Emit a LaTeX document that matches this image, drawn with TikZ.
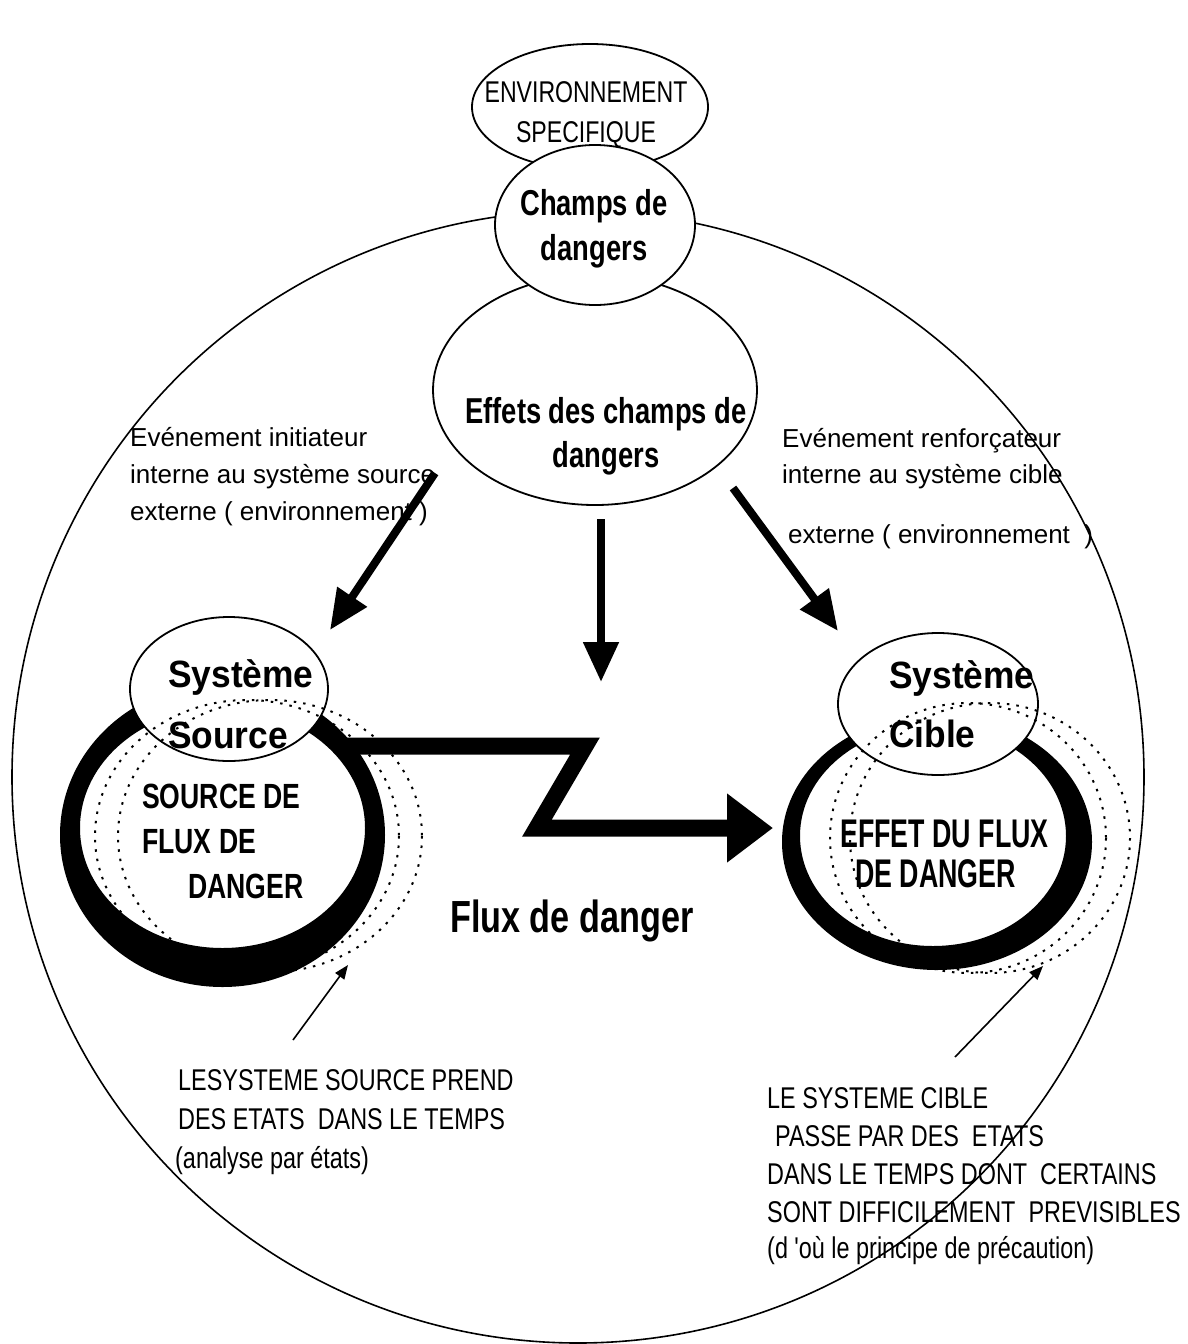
\documentclass[tikz,border=0pt]{standalone}
\usepackage{fontspec}
\setmainfont{Liberation Sans}
\newfontfamily\envfont[FakeStretch=0.77]{Liberation Sans}
\newfontfamily\headfont[FakeStretch=0.76]{Liberation Sans}
\newfontfamily\sysfont[FakeStretch=0.93]{Liberation Sans}
\newfontfamily\effetfont[FakeStretch=0.67]{Liberation Sans}
\newfontfamily\capsfont[FakeStretch=0.78]{Liberation Sans}
\usetikzlibrary{shapes.geometric,arrows.meta}

\begin{document}
\begin{tikzpicture}[x=1pt,y=-1pt,
  outline/.style={draw=black,line width=1.8pt},
  bubble/.style={ellipse,outline,fill=white,inner sep=0pt},
  statepath/.style={draw=black,line width=2pt,dash pattern=on 2.5pt off 7pt},
  bigarrow/.style={line width=8pt,-{Triangle[length=40pt,width=34pt]}},
  thinarrow/.style={line width=1.6pt,-{Triangle[length=14pt,width=11pt]}},
  % multi-line texts are placed by the baseline of their last line
  txt/.style={inner sep=0pt,anchor=base west,align=left},
  ctxt/.style={inner sep=0pt,anchor=base,align=center},
]
% page
\fill[white] (0,0) rectangle (1188,1344);
\useasboundingbox (0,0) rectangle (1188,1344);

% whole system boundary
\node[circle,draw=black,line width=1.6pt,minimum size=1132pt,inner sep=0pt] (world) at (578,777) {};

% hazard field bubbles
\node[bubble,minimum width=324pt,minimum height=230pt] (effets) at (595,390) {};
\node[bubble,minimum width=236pt,minimum height=126pt] (envir) at (590,107) {};
\node[bubble,minimum width=200pt,minimum height=160pt] (champs) at (595,225) {};

% thick rings of the two systems
\coordinate (srcOut) at (222.5,835);
\coordinate (srcIn) at (222.5,828);
\coordinate (tgtOut) at (937,842);
\coordinate (tgtIn) at (933,836);
\fill[black,even odd rule] (srcOut) ellipse [x radius=162.5, y radius=152]
                           (srcIn) ellipse [x radius=142.5, y radius=120];
\fill[black,even odd rule] (tgtOut) ellipse [x radius=155, y radius=128]
                           (tgtIn) ellipse [x radius=133, y radius=110];

% system heads
\node[bubble,minimum width=198pt,minimum height=144pt] (sysSrc) at (229,689) {};
\node[bubble,minimum width=200pt,minimum height=142pt] (sysTgt) at (938,704) {};

% successive states (dotted)
\coordinate (srcStA) at (247,836);
\coordinate (srcStB) at (270,836);
\coordinate (tgtStA) at (968,838);
\coordinate (tgtStB) at (990,838);
\draw[statepath] (srcStA) ellipse [x radius=152, y radius=136];
\draw[statepath] (srcStB) ellipse [x radius=152, y radius=136];
\draw[statepath] (tgtStA) ellipse [x radius=138, y radius=135];
\draw[statepath] (tgtStB) ellipse [x radius=140, y radius=135];

% hazard flow
\coordinate (fluxA) at (345,746);
\coordinate (fluxB) at (585,746);
\coordinate (fluxC) at (537,828);
\coordinate (fluxD) at (773,828);
\draw[line width=17pt,miter limit=10,-{Triangle[length=46pt,width=66pt]}]
  (fluxA) -- (fluxB) -- (fluxC) -- (fluxD);

% triggering events
\coordinate (evL1) at (435,473);
\coordinate (evL2) at (330,630);
\coordinate (evM1) at (601,519);
\coordinate (evM2) at (601,682);
\coordinate (evR1) at (733,488);
\coordinate (evR2) at (838,631);
\draw[bigarrow] (evL1) -- (evL2);
\draw[bigarrow] (evM1) -- (evM2);
\draw[bigarrow] (evR1) -- (evR2);

% pointers to the state paths
\coordinate (srcNote) at (293,1040);
\coordinate (srcState) at (348,965);
\coordinate (tgtNote) at (955,1057);
\coordinate (tgtState) at (1043,966);
\draw[thinarrow] (srcNote) -- (srcState);
\draw[thinarrow] (tgtNote) -- (tgtState);

% texts
\node[ctxt,font={\envfont\fontsize{30}{40}\selectfont}] (envTxt) at (586,142)
  {ENVIRONNEMENT\\SPECIFIQUE};
\node[ctxt,font={\headfont\bfseries\fontsize{36}{45}\selectfont}] (champsTxt) at (594,260)
  {Champs de\\dangers};
\node[ctxt,font={\headfont\bfseries\fontsize{36}{44}\selectfont}] (effetsTxt) at (606,467)
  {Effets des champs de\\dangers};
\node[txt,font={\sysfont\bfseries\fontsize{38}{61}\selectfont}] (srcTxt) at (168,748)
  {Système\\Source};
\node[txt,font={\sysfont\bfseries\fontsize{38}{59}\selectfont}] (tgtTxt) at (889,747)
  {Système\\Cible};
\node[txt,font={\headfont\bfseries\fontsize{35}{45}\selectfont}] (srcInTxt) at (142,898)
  {SOURCE DE\\FLUX DE\\\hspace*{46pt}DANGER};
\node[txt,font={\effetfont\bfseries\fontsize{40}{40}\selectfont}] (tgtInTxt) at (840,887)
  {EFFET DU FLUX\\\hspace*{15pt}DE DANGER};
\node[txt,font={\headfont\bfseries\fontsize{45}{50}\selectfont}] (fluxTxt) at (450,932)
  {Flux de danger};
\node[txt,font={\fontsize{26}{37}\selectfont}] (initTxt) at (130,520)
  {Evénement initiateur\\interne au système source\\externe ( environnement )};
\node[txt,font={\fontsize{26}{36}\selectfont}] (renfTxt) at (782,543)
  {Evénement renforçateur\\interne au système cible\\[24pt]\hspace*{6pt}externe ( environnement \ )};
\node[txt,font={\capsfont\fontsize{30}{39}\selectfont}] (srcNoteTxt) at (178,1168)
  {LESYSTEME SOURCE PREND\\DES ETATS \ DANS LE TEMPS\\\hspace*{-3pt}(analyse par états)};
\node[txt,font={\capsfont\fontsize{30}{38}\selectfont}] (tgtNoteTxt) at (767,1258)
  {LE SYSTEME CIBLE\\\hspace*{8pt}PASSE PAR DES \ ETATS\\DANS LE TEMPS DONT \ CERTAINS\\SONT DIFFICILEMENT \ PREVISIBLES\\[-2pt](d 'où le principe de précaution)};
\end{tikzpicture}
\end{document}
